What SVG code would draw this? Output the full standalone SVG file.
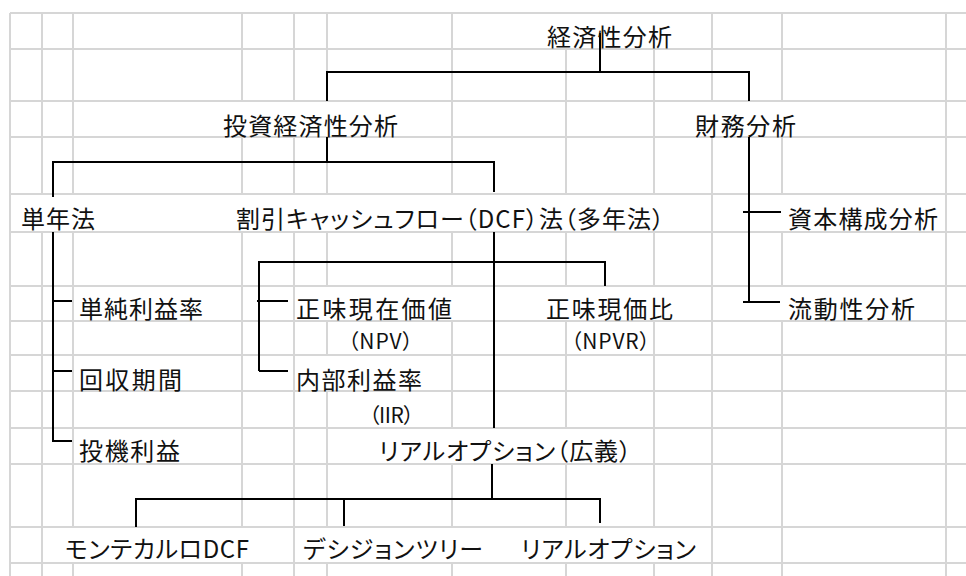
<svg xmlns="http://www.w3.org/2000/svg" width="966" height="576" viewBox="0 0 966 576">
<style>
.grid{stroke:#d6d6d6;stroke-width:2;fill:none}
.con{stroke:#000;stroke-width:2;fill:none}
text{font-family:"Noto Sans CJK JP","Noto Sans",sans-serif;font-size:24px;fill:#111;dominant-baseline:central;font-feature-settings:"palt";}
.ab{font-size:21px}
</style>
<rect width="966" height="576" fill="#fff"/>
<g id="grid" class="grid">
<path d="M10,13H966M10,49H966M10,101H966M10,137H966M10,194H966M10,232H966M10,286H966M10,321H966M10,355H966M10,391H966M10,428H966M10,464H966M10,527H966M10,563H966"/>
<path d="M10,13V576
M42,13V194M42,232V576
M73,13V194M73,232V527M73,563V576
M242,13V101M242,137V194M242,232V527M242,563V576
M294,13V101M294,137V194M294,232V576
M327,13V101M327,137V194M327,232V286M327,321V355M327,391V527M327,563V576
M452,13V194M452,232V286M452,321V428M452,464V527M452,563V576
M566,49V194M566,232V286M566,321V428M566,464V527M566,563V576
M654,49V194M654,232V286M654,321V527M654,563V576
M712,13V101M712,137V576
M782,13V101M782,137V194M782,232V286M782,321V576
M946,13V576"/>
</g>
<g id="connectors" class="con">
<path d="M600,33V72M327,101V72H749V101"/>
<path d="M327,137V162M53,197V162H494V192"/>
<path d="M749,137V302M743,212H781M743,302H780"/>
<path d="M53,232V441H72M53,301H72M53,371H72"/>
<path d="M494,232V428M259,371V262H605V286M257,301H288M259,371H288"/>
<path d="M492,464V499M136,527V499H600V523M344,499V526"/>
</g>
<g id="keizaisei"><text x="547" y="35" textLength="125">経済性分析</text></g>
<g id="toshi"><text x="223" y="124" textLength="175">投資経済性分析</text></g>
<g id="zaimu"><text x="695" y="124" textLength="101">財務分析</text></g>
<g id="tannen"><text x="21" y="217" textLength="74">単年法</text></g>
<g id="dcf"><text x="236" y="217" textLength="428">割引キャッシュフロー（DCF）法（多年法）</text></g>
<g id="shihon"><text x="788" y="217" textLength="150">資本構成分析</text></g>
<g id="tanjun"><text x="79" y="307" textLength="124">単純利益率</text></g>
<g id="npv"><text x="296" y="307" textLength="156">正味現在価値</text><text class="ab" x="348" y="340" textLength="65">（NPV）</text></g>
<g id="npvr"><text x="546" y="307" textLength="127">正味現価比</text><text class="ab" x="571" y="340" textLength="79">（NPVR）</text></g>
<g id="ryudo"><text x="788" y="307" textLength="127">流動性分析</text></g>
<g id="kaishu"><text x="79" y="378" textLength="103">回収期間</text></g>
<g id="irr"><text x="296" y="378" textLength="126">内部利益率</text><text class="ab" x="369" y="414" textLength="45">（IIR）</text></g>
<g id="toki"><text x="79" y="449" textLength="101">投機利益</text></g>
<g id="realoption-broad"><text x="379" y="449" textLength="252">リアルオプション（広義）</text></g>
<g id="montecarlo"><text x="65" y="547" textLength="184">モンテカルロDCF</text></g>
<g id="decisiontree"><text x="303" y="547" textLength="180">デシジョンツリー</text></g>
<g id="realoption"><text x="521" y="547" textLength="175">リアルオプション</text></g>
</svg>
